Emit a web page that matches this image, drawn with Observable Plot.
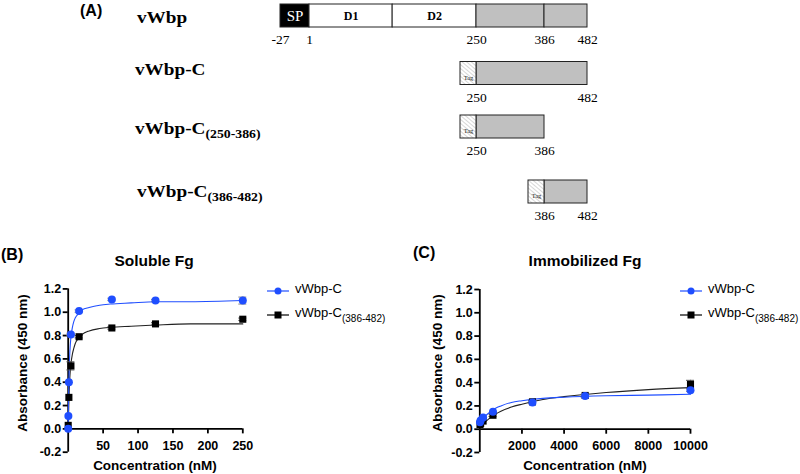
<!DOCTYPE html>
<html>
<head>
<meta charset="utf-8">
<script src="https://cdn.jsdelivr.net/npm/d3@7"></script>
<script src="https://cdn.jsdelivr.net/npm/@observablehq/plot@0.6"></script>
<style>
  html, body { margin: 0; padding: 0; background: #fff; }
  #root { position: relative; width: 800px; height: 474px; overflow: hidden; color: #000;
          font-family: "Liberation Sans", Arial, sans-serif; }
  .abs { position: absolute; white-space: nowrap; line-height: 1; }
  .plot { position: absolute; }
</style>
</head>
<body>
<div id="root"></div>
<script>
// ---------------- Panel A: domain organisation ----------------
const domainStart = [-27, 1, 125, 250, 386];
const domainEnd   = [1, 125, 250, 386, 482];
const domainLabel = ["SP", "D1", "D2", "", ""];
const fullTicks   = [-27, 1, 250, 386, 482];
const constructNames = ["vWbp-C", "vWbp-C(250-386)", "vWbp-C(386-482)"];
const constructStart = [250, 250, 386];
const constructEnd   = [482, 386, 482];

// ---------------- Panel B: Soluble Fg ----------------
const solConcC = [0, 0.24, 0.98, 3.9, 15.6, 62.5, 125, 250];
const solAbsC  = [0.00, 0.11, 0.40, 0.81, 1.01, 1.11, 1.10, 1.10];
const solErrC  = [0, 0, 0, 0.01, 0.01, 0.01, 0.01, 0.03];
const solConcS = [0, 0.98, 3.9, 15.6, 62.5, 125, 250];
const solAbsS  = [0.03, 0.27, 0.54, 0.79, 0.865, 0.90, 0.94];
const solErrS  = [0, 0, 0.035, 0.01, 0.01, 0.01, 0.01];
const solFitX  = [0, 0.25, 0.5, 1, 2, 3, 4, 6, 8, 10, 15, 20, 30, 45, 60, 90, 125, 175, 250];
const solFitC  = [0, 0.15, 0.26, 0.42, 0.61, 0.72, 0.79, 0.87, 0.92, 0.95, 0.99, 1.02, 1.04, 1.06, 1.07, 1.08, 1.09, 1.09, 1.10];
const solFitS  = [0, 0.08, 0.15, 0.26, 0.40, 0.50, 0.56, 0.64, 0.69, 0.73, 0.78, 0.81, 0.84, 0.86, 0.87, 0.88, 0.89, 0.90, 0.90];
const solXTicks = [50, 100, 150, 200, 250];

// ---------------- Panel C: Immobilized Fg ----------------
const immConcC = [9.8, 39, 156, 625, 2500, 5000, 10000];
const immAbsC  = [0.06, 0.075, 0.10, 0.15, 0.23, 0.285, 0.335];
const immErrC  = [0, 0, 0, 0, 0.01, 0.01, 0.01];
const immConcS = [9.8, 39, 156, 625, 2500, 5000, 10000];
const immAbsS  = [0.04, 0.05, 0.07, 0.12, 0.235, 0.29, 0.385];
const immErrS  = [0, 0, 0, 0.01, 0.01, 0.01, 0.035];
const immFitX  = [0, 100, 250, 500, 750, 1000, 1500, 2000, 3000, 4000, 6000, 8000, 10000];
const immFitC  = [0.05, 0.08, 0.11, 0.15, 0.18, 0.20, 0.23, 0.245, 0.265, 0.275, 0.287, 0.293, 0.30];
const immFitS  = [0.0, 0.03, 0.06, 0.10, 0.13, 0.155, 0.19, 0.215, 0.255, 0.28, 0.315, 0.34, 0.357];
const immXTicks = [2000, 4000, 6000, 8000, 10000];

const yTicks = [-0.2, 0.0, 0.2, 0.4, 0.6, 0.8, 1.0, 1.2];
const seriesNames = ["vWbp-C", "vWbp-C(386-482)"];

// ---------------- styling ----------------
const BLUE = "#1f4eff";
const SANS = '"Liberation Sans", Arial, sans-serif';
const SERIF = '"Liberation Serif", "Times New Roman", serif';
const root = document.getElementById("root");

function label(html, x, y, o = {}) {
  const d = document.createElement("div");
  d.className = "abs";
  d.innerHTML = html;
  d.style.fontSize = (o.size || 13) + "px";
  d.style.fontWeight = o.weight || "normal";
  d.style.fontFamily = o.family || SANS;
  d.style.left = x + "px";
  d.style.top = y + "px";
  const tx = o.anchor === "middle" ? "-50%" : o.anchor === "end" ? "-100%" : "0";
  let t = `translate(${tx}, -50%)`;
  if (o.rotate) t += ` rotate(${o.rotate}deg)`;
  if (o.sx) { t += ` scaleX(${o.sx})`; d.style.transformOrigin = "left center"; }
  d.style.transform = t;
  root.appendChild(d);
  return d;
}
function place(svg, left, top) {
  const wrap = document.createElement("div");
  wrap.className = "plot";
  wrap.style.left = left + "px";
  wrap.style.top = top + "px";
  wrap.appendChild(svg);
  root.appendChild(wrap);
}

// ---------------- Panel A plot ----------------
const segs = domainStart.map((s, i) => ({start: s, end: domainEnd[i], label: domainLabel[i], row: 0}));
const constructs = constructNames.map((n, i) => ({name: n, start: constructStart[i], end: constructEnd[i], row: i + 1}));
const posLabels = [
  ...fullTicks.map(v => ({v, row: 0})),
  ...constructs.flatMap(c => [{v: c.start, row: c.row}, {v: c.end, row: c.row}])
];
const barOpts = {y1: "row", y2: "row", insetTop: -11.5, insetBottom: -11.5, stroke: "#222", strokeWidth: 1};

const plotA = Plot.plot({
  width: 800, height: 230, margin: 0,
  x: {type: "linear", domain: fullTicks, range: [280, 309, 476, 544, 587], axis: null},
  y: {type: "linear", domain: [0, 1, 2, 3], range: [15.5, 73, 126.5, 191.5], axis: null},
  style: {background: "transparent", overflow: "visible"},
  marks: [
    Plot.rect(segs.filter(d => d.label === "SP"), {x1: "start", x2: "end", ...barOpts, fill: "#000"}),
    Plot.rect(segs.filter(d => d.label.startsWith("D")), {x1: "start", x2: "end", ...barOpts, fill: "#fff"}),
    Plot.rect(segs.filter(d => d.label === ""), {x1: "start", x2: "end", ...barOpts, fill: "#c0c0c0"}),
    Plot.rect(constructs, {x1: "start", x2: "end", ...barOpts, fill: "#c0c0c0"}),
    Plot.rect(constructs, {x1: "start", x2: "start", ...barOpts, insetLeft: -16, fill: "url(#hatch)"}),
    Plot.text(constructs, {x: "start", y: "row", dx: -8, dy: 4, text: () => "Tag", fontSize: 6.5, fontFamily: SERIF, fill: "#222"}),
    Plot.text(segs.filter(d => d.label === "SP"), {x: d => (d.start + d.end) / 2, y: "row", text: "label", fill: "#fff", fontFamily: SERIF, fontSize: 15}),
    Plot.text(segs.filter(d => d.label.startsWith("D")), {x: d => (d.start + d.end) / 2, y: "row", text: "label", fill: "#000", fontFamily: SERIF, fontWeight: "bold", fontSize: 12}),
    Plot.text(posLabels, {x: "v", y: "row", dy: 24, text: d => String(d.v), fontFamily: SERIF, fontSize: 13.5, fill: "#000"})
  ]
});
// hatch pattern for the tag boxes
const defs = d3.select(plotA).insert("defs", ":first-child");
const pat = defs.append("pattern").attr("id", "hatch").attr("patternUnits", "userSpaceOnUse")
  .attr("width", 3).attr("height", 3).attr("patternTransform", "rotate(-50)");
pat.append("rect").attr("width", 3).attr("height", 3).attr("fill", "#fff");
pat.append("line").attr("x1", 0).attr("y1", 0).attr("x2", 0).attr("y2", 3).attr("stroke", "#777").attr("stroke-width", 0.6);
place(plotA, 0, 0);

// ---------------- Panels B and C ----------------
function bindingPlot({concC, absC, errC, concS, absS, errS, fitX, fitC, fitS, xMax, xTicks, marginLeft, marginRight, marginTop, marginBottom}) {
  const ptsC = concC.map((x, i) => ({x, y: absC[i], e: errC[i]}));
  const ptsS = concS.map((x, i) => ({x, y: absS[i], e: errS[i]}));
  const fitCurveC = fitX.map((x, i) => ({x, y: fitC[i]}));
  const fitCurveS = fitX.map((x, i) => ({x, y: fitS[i]}));
  const errMarks = (pts, color) => [
    Plot.ruleX(pts.filter(d => d.e > 0), {x: "x", y1: d => d.y - d.e, y2: d => d.y + d.e, stroke: color, strokeWidth: 1}),
    Plot.ruleY(pts.filter(d => d.e > 0), {y: d => d.y + d.e, x1: "x", x2: "x", insetLeft: -4, insetRight: -4, stroke: color, strokeWidth: 1}),
    Plot.ruleY(pts.filter(d => d.e > 0), {y: d => d.y - d.e, x1: "x", x2: "x", insetLeft: -4, insetRight: -4, stroke: color, strokeWidth: 1})
  ];
  return Plot.plot({
    width: 400, height: 200, marginLeft, marginRight, marginTop, marginBottom,
    x: {domain: [0, xMax], axis: null},
    y: {domain: [-0.2, 1.2], axis: null},
    style: {fontFamily: SANS, fontWeight: "bold", fontSize: "12.5px", background: "transparent", overflow: "visible", color: "#000"},
    marks: [
      Plot.axisY({ticks: yTicks, tickSize: 5, tickPadding: 2, tickFormat: d => d.toFixed(1), label: null, strokeWidth: 1.8, fill: "#000", stroke: "#000"}),
      Plot.ruleX([0], {y1: -0.2, y2: 1.2, stroke: "#000", strokeWidth: 1.8}),
      Plot.ruleY([0], {x1: 0, x2: xMax, stroke: "#000", strokeWidth: 1.8}),
      Plot.ruleX(xTicks, {x: d => d, y1: 0, y2: 0, insetBottom: -5, stroke: "#000", strokeWidth: 1.8}),
      Plot.text(xTicks, {x: d => d, y: 0, dy: 17, text: d => String(d), fill: "#000"}),
      Plot.line(fitCurveS, {x: "x", y: "y", stroke: "#222", strokeWidth: 1.1, curve: "monotone-x"}),
      Plot.line(fitCurveC, {x: "x", y: "y", stroke: BLUE, strokeWidth: 1.1, curve: "monotone-x"}),
      ...errMarks(ptsS, "#555"),
      Plot.dot(ptsS, {x: "x", y: "y", symbol: "square", r: 4, fill: "#000", stroke: null}),
      ...errMarks(ptsC, "#888"),
      Plot.dot(ptsC, {x: "x", y: "y", symbol: "circle", r: 4, fill: BLUE, stroke: null})
    ]
  });
}

const plotB = bindingPlot({
  concC: solConcC, absC: solAbsC, errC: solErrC, concS: solConcS, absS: solAbsS, errS: solErrS,
  fitX: solFitX, fitC: solFitC, fitS: solFitS, xMax: 250, xTicks: solXTicks,
  marginLeft: 67.7, marginRight: 157.7, marginTop: 18.4, marginBottom: 18.3
});
place(plotB, 0, 270);

const plotC = bindingPlot({
  concC: immConcC, absC: immAbsC, errC: immErrC, concS: immConcS, absS: immAbsS, errS: immErrS,
  fitX: immFitX, fitC: immFitC, fitS: immFitS, xMax: 10000, xTicks: immXTicks,
  marginLeft: 79.3, marginRight: 110, marginTop: 19, marginBottom: 18
});
place(plotC, 400, 270);

// ---------------- Text ----------------
label("(A)", 80, 11, {size: 16, weight: "bold"});
label("(B)", 1, 255, {size: 16, weight: "bold"});
label("(C)", 413, 253, {size: 16, weight: "bold"});

label("Soluble Fg", 154, 261, {size: 15.5, weight: "bold", anchor: "middle"});
label("Immobilized Fg", 585, 261, {size: 15.5, weight: "bold", anchor: "middle"});
label("Concentration (nM)", 155, 466, {size: 13.5, weight: "bold", anchor: "middle"});
label("Concentration (nM)", 585, 466, {size: 13.5, weight: "bold", anchor: "middle"});
label("Absorbance (450 nm)", 23, 363, {size: 13.5, weight: "bold", anchor: "middle", rotate: -90});
label("Absorbance (450 nm)", 438, 363, {size: 13.5, weight: "bold", anchor: "middle", rotate: -90});

// construct names (panel A)
function nameHTML(n) {
  const m = n.match(/^(.*?)(\(.*\))?$/);
  return m[1] + (m[2] ? `<span style="font-size:11.5px;position:relative;top:4px">${m[2]}</span>` : "");
}
const rowNames = ["vWbp", ...constructNames];
const rowNameX = [137, 135, 135, 137];
const rowNameY = [18, 70, 129, 192];
rowNames.forEach((n, i) => label(nameHTML(n), rowNameX[i], rowNameY[i], {size: 16, weight: "bold", family: SERIF, sx: 1.2}));

// legends
function legend(x, y) {
  seriesNames.forEach((n, i) => {
    const yy = y + i * 24;
    const sw = document.createElement("div");
    sw.className = "abs";
    sw.style.left = x + "px";
    sw.style.top = (yy - 5) + "px";
    const color = i === 0 ? BLUE : "#000";
    const marker = i === 0
      ? `<circle cx="11" cy="5" r="3.5" fill="${color}"/>`
      : `<rect x="7.5" y="1.5" width="7" height="7" fill="${color}"/>`;
    sw.innerHTML = `<svg width="22" height="10"><line x1="0" y1="5" x2="22" y2="5" stroke="${color}" stroke-width="1.2"/>${marker}</svg>`;
    root.appendChild(sw);
    const sub = n.match(/^(.*?)(\(.*\))?$/);
    label(sub[1] + (sub[2] ? `<span style="font-size:10px;position:relative;top:5px">${sub[2]}</span>` : ""), x + 28, yy, {size: 13});
  });
}
legend(267, 288);
legend(680, 288);
</script>
</body>
</html>
